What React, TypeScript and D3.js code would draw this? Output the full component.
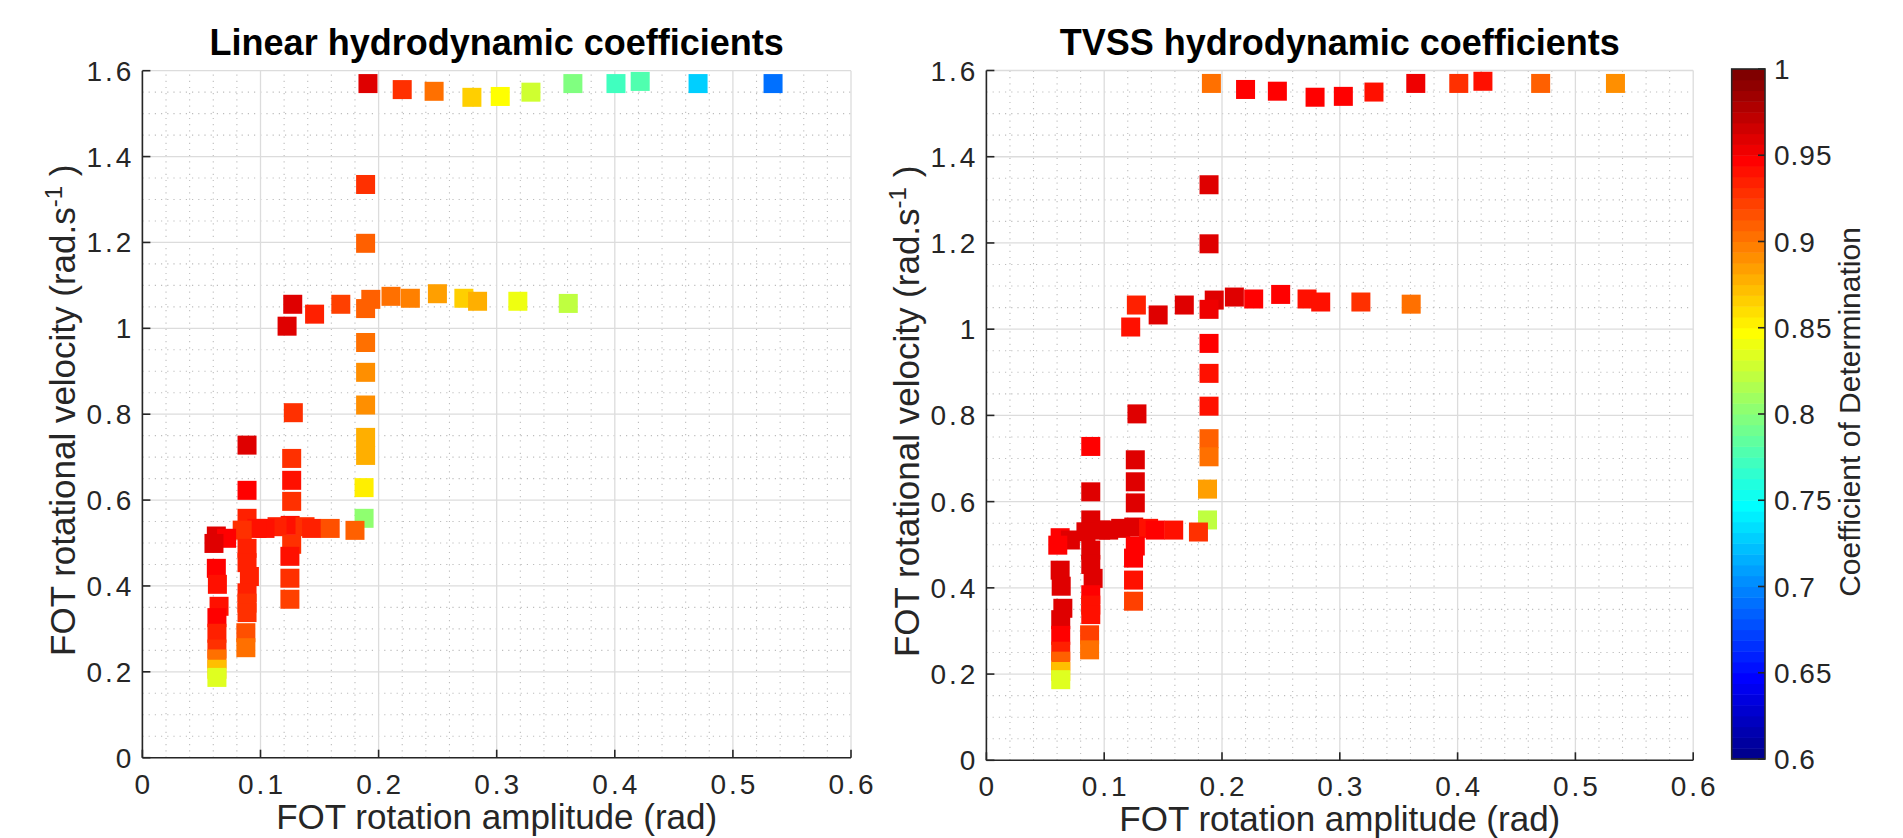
import React from "react";
import * as d3 from "d3";

// ---------- data ----------
const ampX = [
  0.191, 0.22, 0.247, 0.279, 0.303, 0.329, 0.3645, 0.401, 0.4215, 0.4705, 0.534,
  0.189, 0.189,
  0.1225, 0.1273, 0.1458, 0.168, 0.189, 0.1934, 0.2105, 0.2269, 0.2498, 0.2722, 0.2838, 0.3179, 0.3606,
  0.189, 0.189, 0.189, 0.189, 0.189, 0.1877, 0.1877, 0.18,
  0.1278, 0.1264, 0.1264, 0.1264, 0.1251, 0.1264, 0.1249, 0.1249, 0.1249,
  0.1038, 0.114, 0.1377, 0.1433, 0.159,
  0.0886, 0.0886, 0.0886, 0.097, 0.0845, 0.0886, 0.0886, 0.0906, 0.0886, 0.0886, 0.0886, 0.0876, 0.0876,
  0.0713, 0.0626, 0.0606, 0.0626, 0.0635, 0.0649, 0.0631, 0.0631, 0.0631, 0.0631, 0.0631, 0.0631,
];
const velY = [
  1.57, 1.556, 1.552, 1.538, 1.54, 1.55, 1.57, 1.57, 1.575, 1.57, 1.57,
  1.335, 1.198,
  1.005, 1.056, 1.033, 1.056, 1.046, 1.0675, 1.0745, 1.07, 1.0806, 1.07, 1.063, 1.063, 1.058,
  0.967, 0.8975, 0.8214, 0.746, 0.704, 0.629, 0.5575, 0.5295,
  0.8035, 0.697, 0.646, 0.597, 0.541, 0.497, 0.469, 0.418, 0.369,
  0.534, 0.538, 0.538, 0.534, 0.534,
  0.728, 0.6227, 0.5575, 0.534, 0.53, 0.4876, 0.4543, 0.422, 0.384, 0.36, 0.338, 0.2911, 0.2562,
  0.511, 0.5163, 0.499, 0.441, 0.4038, 0.3526, 0.3262, 0.2898, 0.2531, 0.23, 0.206, 0.187,
];
const r2Linear = [
  0.959, 0.931, 0.906, 0.868, 0.847, 0.829, 0.797, 0.772, 0.781, 0.728, 0.691,
  0.928, 0.909,
  0.959, 0.959, 0.934, 0.922, 0.909, 0.909, 0.903, 0.897, 0.884, 0.866, 0.878, 0.84, 0.822,
  0.903, 0.893, 0.893, 0.878, 0.878, 0.856, 0.803, 0.909,
  0.928, 0.928, 0.94, 0.928, 0.94, 0.928, 0.94, 0.928, 0.92,
  0.942, 0.934, 0.928, 0.934, 0.916,
  0.959, 0.947, 0.934, 0.942, 0.928, 0.934, 0.934, 0.934, 0.934, 0.928, 0.928, 0.916, 0.9,
  0.947, 0.959, 0.959, 0.947, 0.94, 0.942, 0.947, 0.934, 0.928, 0.903, 0.872, 0.836,
];
const r2TVSS = [
  0.9, 0.946, 0.946, 0.947, 0.947, 0.942, 0.953, 0.93, 0.94, 0.909, 0.893,
  0.959, 0.959,
  0.94, 0.935, 0.959, 0.959, 0.955, 0.959, 0.959, 0.947, 0.947, 0.942, 0.942, 0.928, 0.905,
  0.947, 0.942, 0.94, 0.909, 0.9, 0.884, 0.822, 0.928,
  0.959, 0.959, 0.959, 0.959, 0.959, 0.947, 0.947, 0.94, 0.92,
  0.959, 0.959, 0.942, 0.947, 0.94,
  0.947, 0.959, 0.959, 0.959, 0.959, 0.959, 0.959, 0.959, 0.947, 0.94, 0.94, 0.922, 0.903,
  0.959, 0.947, 0.947, 0.959, 0.959, 0.959, 0.959, 0.947, 0.934, 0.909, 0.872, 0.836,
];

const xTickValues = [0, 0.1, 0.2, 0.3, 0.4, 0.5, 0.6];
const xTickLabels = ["0", "0.1", "0.2", "0.3", "0.4", "0.5", "0.6"];
const yTickValues = [0, 0.2, 0.4, 0.6, 0.8, 1, 1.2, 1.4, 1.6];
const yTickLabels = ["0", "0.2", "0.4", "0.6", "0.8", "1", "1.2", "1.4", "1.6"];
const cbTickValues = [0.6, 0.65, 0.7, 0.75, 0.8, 0.85, 0.9, 0.95, 1];
const cbTickLabels = ["0.6", "0.65", "0.7", "0.75", "0.8", "0.85", "0.9", "0.95", "1"];
const titles = ["Linear hydrodynamic coefficients", "TVSS hydrodynamic coefficients"];

// ---------- colormap (MATLAB jet, 64 levels) ----------
function jet64(i: number): string {
  let r = 0, g = 0, b = 0;
  if (i <= 24) r = 0; else if (i <= 40) r = (i - 24) / 16; else if (i <= 56) r = 1; else r = 1 - (i - 56) / 16;
  if (i <= 8) g = 0; else if (i <= 24) g = (i - 8) / 16; else if (i <= 40) g = 1; else if (i <= 55) g = (56 - i) / 16; else g = 0;
  if (i <= 8) b = (i + 8) / 16; else if (i <= 23) b = 1; else if (i <= 39) b = (40 - i) / 16; else b = 0;
  return d3.rgb(r * 255, g * 255, b * 255).formatHex();
}
const CMIN = 0.6, CMAX = 1.0, NCOL = 64;
function colorOf(v: number): string {
  let idx = Math.floor(((v - CMIN) / (CMAX - CMIN)) * NCOL) + 1;
  idx = Math.max(1, Math.min(NCOL, idx));
  return jet64(idx);
}

// ---------- layout ----------
const W = 1903, H = 838;
const FONT = "'Liberation Sans', Arial, Helvetica, sans-serif";
const TXT = "#262626";
const LS = 3;
const panels = [
  { x0: 142.4, x1: 851, yTop: 70.7, yBot: 757.7, r2: r2Linear, title: titles[0] },
  { x0: 986.4, x1: 1693.2, yTop: 70.5, yBot: 760.3, r2: r2TVSS, title: titles[1] },
];
const MS = 19;

function Panel({ p }: { p: typeof panels[0] }) {
  const xs = d3.scaleLinear().domain([0, 0.6]).range([p.x0, p.x1]);
  const ys = d3.scaleLinear().domain([0, 1.6]).range([p.yBot, p.yTop]);
  const xMinor = d3.range(0, 31).map((k) => k * 0.02).filter((_, k) => k % 5 !== 0);
  const yMinor = d3.range(0, 33).map((k) => k * 0.05).filter((_, k) => k % 4 !== 0);
  const order = d3.range(ampX.length).sort((a, b) => velY[b] - velY[a]);
  const cx = (p.x0 + p.x1) / 2;
  const cy = (p.yTop + p.yBot) / 2;
  return (
    <g>
      {xMinor.map((v, i) => (
        <line key={"xm" + i} x1={xs(v)} x2={xs(v)} y1={p.yBot} y2={p.yTop} stroke="#bdbdbd" strokeWidth={1.1} strokeDasharray="1.2 5" />
      ))}
      {yMinor.map((v, i) => (
        <line key={"ym" + i} x1={p.x0} x2={p.x1} y1={ys(v)} y2={ys(v)} stroke="#bdbdbd" strokeWidth={1.1} strokeDasharray="1.2 5" />
      ))}
      {xTickValues.map((v, i) => (
        <line key={"xg" + i} x1={xs(v)} x2={xs(v)} y1={p.yBot} y2={p.yTop} stroke="#dcdcdc" strokeWidth={1.3} />
      ))}
      {yTickValues.map((v, i) => (
        <line key={"yg" + i} x1={p.x0} x2={p.x1} y1={ys(v)} y2={ys(v)} stroke="#dcdcdc" strokeWidth={1.3} />
      ))}
      {order.map((i) => (
        <rect key={"m" + i} x={xs(ampX[i]) - MS / 2} y={ys(velY[i]) - MS / 2} width={MS} height={MS} fill={colorOf(p.r2[i])} />
      ))}
      <line x1={p.x0} x2={p.x1} y1={p.yBot} y2={p.yBot} stroke={TXT} strokeWidth={1.6} />
      <line x1={p.x0} x2={p.x0} y1={p.yBot} y2={p.yTop} stroke={TXT} strokeWidth={1.6} />
      {xTickValues.map((v, i) => (
        <line key={"xt" + i} x1={xs(v)} x2={xs(v)} y1={p.yBot} y2={p.yBot - 8} stroke={TXT} strokeWidth={1.6} />
      ))}
      {yTickValues.map((v, i) => (
        <line key={"yt" + i} x1={p.x0} x2={p.x0 + 8} y1={ys(v)} y2={ys(v)} stroke={TXT} strokeWidth={1.6} />
      ))}
      {xTickValues.map((v, i) => (
        <text key={"xl" + i} x={xs(v) + LS / 2} y={p.yBot + 36} textAnchor="middle" fontFamily={FONT} fontSize={28} letterSpacing={LS} fill={TXT}>
          {xTickLabels[i]}
        </text>
      ))}
      {yTickValues.map((v, i) => (
        <text key={"yl" + i} x={p.x0 - 11 + LS} y={ys(v) + 10} textAnchor="end" fontFamily={FONT} fontSize={28} letterSpacing={LS} fill={TXT}>
          {yTickLabels[i]}
        </text>
      ))}
      <text x={cx} y={p.yBot + 71} textAnchor="middle" fontFamily={FONT} fontSize={35} fill={TXT}>
        FOT rotation amplitude (rad)
      </text>
      <text transform={`translate(${p.x0 - 67.4},${cy - 4}) rotate(-90)`} textAnchor="middle" fontFamily={FONT} fontSize={35} fill={TXT}>
        FOT rotational velocity (rad.s
        <tspan fontSize={24} dy={-13}>-1</tspan>
        <tspan dy={13}> )</tspan>
      </text>
      <text x={cx} y={55} textAnchor="middle" fontFamily={FONT} fontSize={36} fontWeight="bold" fill="#000">
        {p.title}
      </text>
    </g>
  );
}

function Colorbar() {
  const x0 = 1731.7, x1 = 1765, yTop = 69, yBot = 759;
  const cs = d3.scaleLinear().domain([CMIN, CMAX]).range([yBot, yTop]);
  const bands = d3.range(1, NCOL + 1);
  const step = (CMAX - CMIN) / NCOL;
  return (
    <g>
      {bands.map((i) => (
        <rect key={"b" + i} x={x0} width={x1 - x0} y={cs(CMIN + i * step)} height={cs(CMIN + (i - 1) * step) - cs(CMIN + i * step) + 0.5} fill={jet64(i)} />
      ))}
      <rect x={x0} y={yTop} width={x1 - x0} height={yBot - yTop} fill="none" stroke={TXT} strokeWidth={1.6} />
      {cbTickValues.map((v, i) => (
        <g key={"ct" + i}>
          <line x1={x1} x2={x1 - 7} y1={cs(v)} y2={cs(v)} stroke={TXT} strokeWidth={1.6} />
          <text x={x1 + 9} y={cs(v) + 10} fontFamily={FONT} fontSize={28} letterSpacing={1} fill={TXT}>
            {cbTickLabels[i]}
          </text>
        </g>
      ))}
      <text transform={`translate(1860,${(yTop + yBot) / 2 - 2}) rotate(-90)`} textAnchor="middle" fontFamily={FONT} fontSize={30} fill={TXT}>
        Coefficient of Determination
      </text>
    </g>
  );
}

export default function App() {
  return (
    <svg width={W} height={H} viewBox={`0 0 ${W} ${H}`} style={{ position: "absolute", left: 0, top: 0, background: "#fff" }}>
      <rect x={0} y={0} width={W} height={H} fill="#fff" />
      {panels.map((p, i) => (
        <Panel key={i} p={p} />
      ))}
      <Colorbar />
    </svg>
  );
}
